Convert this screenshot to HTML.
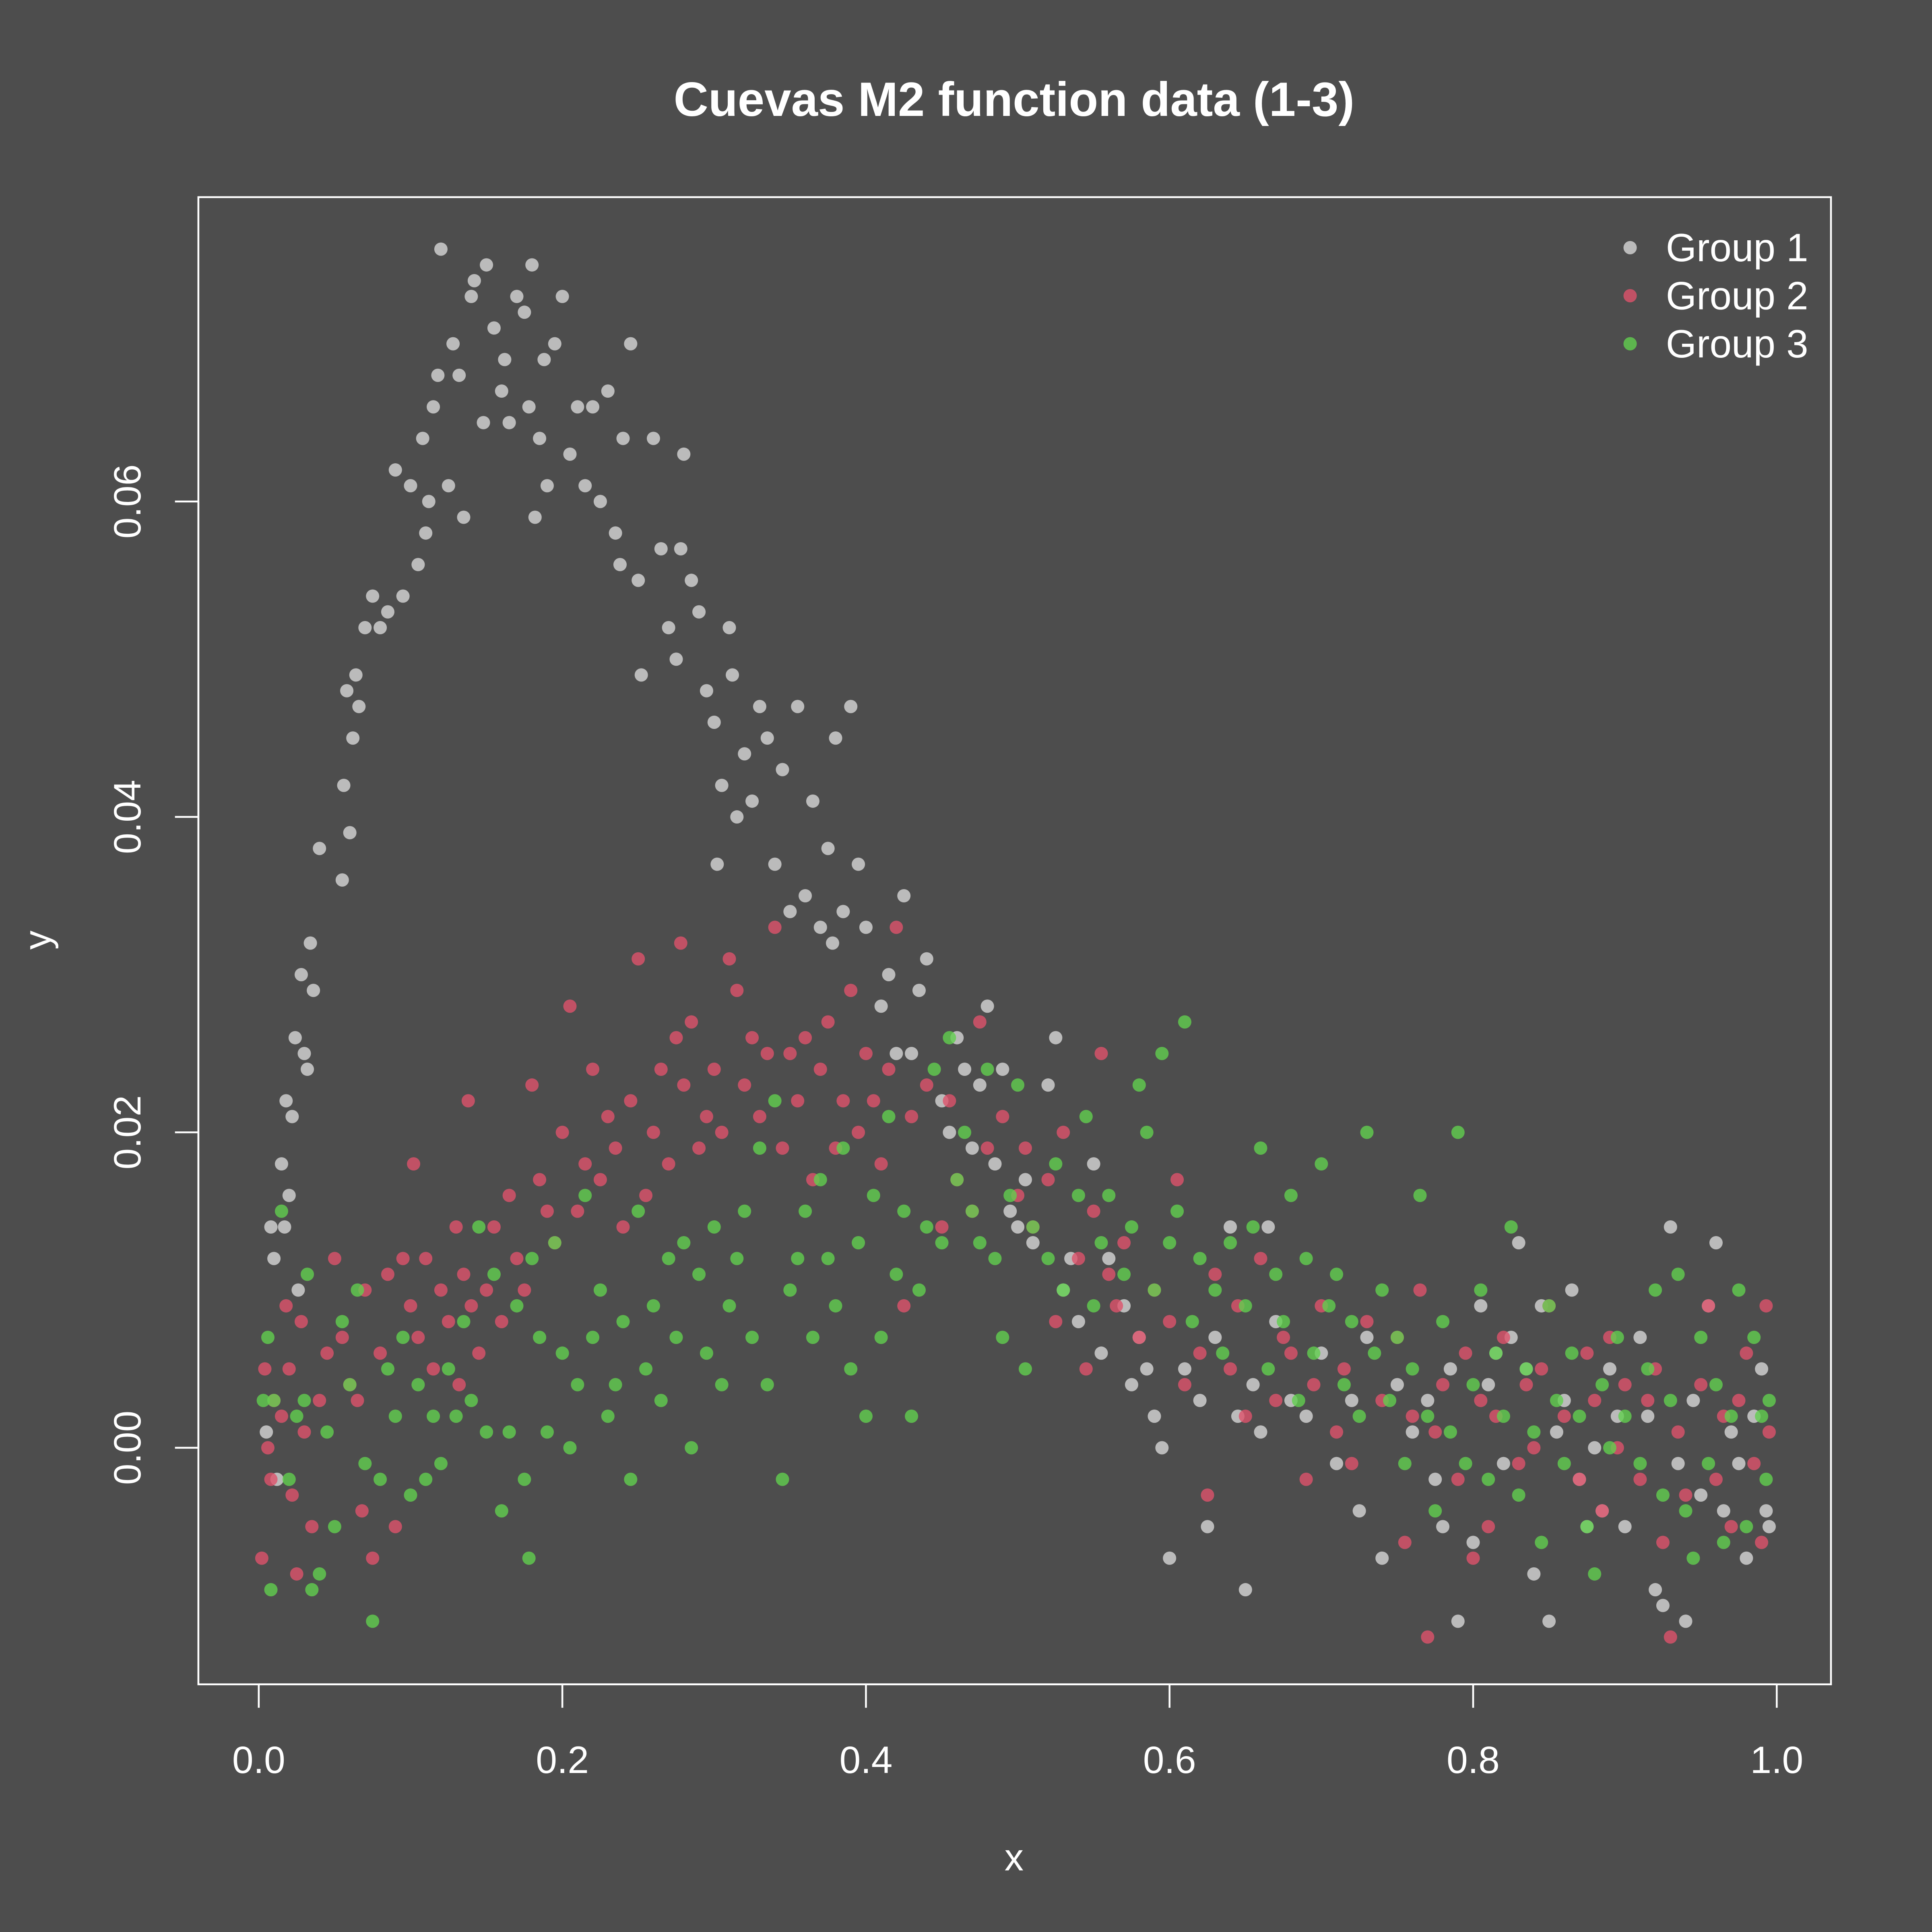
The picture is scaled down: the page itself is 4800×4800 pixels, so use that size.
<!DOCTYPE html>
<html><head><meta charset="utf-8"><style>
html,body{margin:0;padding:0;background:#4d4d4d;}
svg{display:block;}
text{font-family:"Liberation Sans",sans-serif;fill:#fff;}
</style></head><body>
<svg id="chart" width="4800" height="4800" viewBox="0 0 1568 1568" xmlns="http://www.w3.org/2000/svg">
<rect x="0" y="0" width="1568" height="1568" fill="#4d4d4d"/>
<text x="823" y="94" font-size="39" font-weight="bold" text-anchor="middle">Cuevas M2 function data (1-3)</text>
<rect x="161" y="160" width="1325" height="1207" fill="none" stroke="#fff" stroke-width="1.5"/>
<g id="xaxis"></g>
<g id="yaxis"></g>
<text x="823" y="1518" font-size="31" text-anchor="middle">x</text>
<text transform="translate(41,763) rotate(-90)" font-size="31" text-anchor="middle">y</text>
<g id="points"></g>
<g id="legend"></g>
</svg>
<script>
const xTicks=[0,0.2,0.4,0.6,0.8,1.0];
const xTickLabels=["0.0","0.2","0.4","0.6","0.8","1.0"];
const yTicks=[0,0.02,0.04,0.06];
const yTickLabels=["0.00","0.02","0.04","0.06"];
const groupNames=["Group 1","Group 2","Group 3"];
const groupColors=["rgba(215,215,215,0.8)","rgba(223,83,107,0.8)","rgba(97,208,79,0.8)"];
// y values in thousandths
const g1=[[0.005,1],[0.008,14],[0.01,12],[0.012,-2],[0.015,18],[0.017,14],[0.018,22],[0.02,16],[0.022,21],[0.024,26],[0.026,10],[0.028,30],[0.03,25],[0.032,24],[0.034,32],[0.036,29],[0.04,38],[0.055,36],[0.056,42],[0.058,48],[0.06,39],[0.062,45],[0.064,49],[0.066,47],[0.07,52],[0.075,54],[0.08,52],[0.085,53],[0.09,62],[0.095,54],[0.1,61],[0.105,56],[0.108,64],[0.11,58],[0.112,60],[0.115,66],[0.118,68],[0.12,76],[0.125,61],[0.128,70],[0.132,68],[0.135,59],[0.14,73],[0.142,74],[0.148,65],[0.15,75],[0.155,71],[0.16,67],[0.162,69],[0.165,65],[0.17,73],[0.175,72],[0.178,66],[0.18,75],[0.182,59],[0.185,64],[0.188,69],[0.19,61],[0.195,70],[0.2,73],[0.205,63],[0.21,66],[0.215,61],[0.22,66],[0.225,60],[0.23,67],[0.235,58],[0.238,56],[0.24,64],[0.245,70],[0.25,55],[0.252,49],[0.26,64],[0.265,57],[0.27,52],[0.275,50],[0.278,57],[0.28,63],[0.285,55],[0.29,53],[0.295,48],[0.3,46],[0.302,37],[0.305,42],[0.31,52],[0.312,49],[0.315,40],[0.32,44],[0.325,41],[0.33,47],[0.335,45],[0.34,37],[0.345,43],[0.35,34],[0.355,47],[0.36,35],[0.365,41],[0.37,33],[0.375,38],[0.378,32],[0.38,45],[0.385,34],[0.39,47],[0.395,37],[0.4,33],[0.41,28],[0.415,30],[0.42,25],[0.425,35],[0.43,25],[0.435,29],[0.44,31],[0.45,22],[0.455,20],[0.46,26],[0.465,24],[0.47,19],[0.475,23],[0.48,28],[0.485,18],[0.49,24],[0.495,15],[0.5,14],[0.505,17],[0.51,13],[0.52,23],[0.525,26],[0.53,10],[0.535,12],[0.54,8],[0.55,18],[0.555,6],[0.56,12],[0.57,9],[0.575,4],[0.58,7],[0.585,5],[0.59,2],[0.595,0],[0.6,-7],[0.61,5],[0.62,3],[0.625,-5],[0.63,7],[0.64,14],[0.645,2],[0.65,-9],[0.655,4],[0.66,1],[0.665,14],[0.67,8],[0.68,3],[0.69,2],[0.7,6],[0.71,-1],[0.72,3],[0.725,-4],[0.73,7],[0.74,-7],[0.75,4],[0.76,1],[0.77,3],[0.775,-2],[0.78,-5],[0.785,5],[0.79,-11],[0.8,-6],[0.805,9],[0.81,4],[0.815,6],[0.82,-1],[0.825,7],[0.83,13],[0.835,5],[0.84,-8],[0.845,9],[0.85,-11],[0.855,1],[0.86,3],[0.865,10],[0.87,-2],[0.875,-5],[0.88,0],[0.885,-4],[0.89,5],[0.895,2],[0.9,-5],[0.91,7],[0.915,2],[0.92,-9],[0.925,-10],[0.93,14],[0.935,-1],[0.94,-11],[0.945,3],[0.95,-3],[0.955,9],[0.96,13],[0.965,-4],[0.97,1],[0.975,-1],[0.98,-7],[0.985,2],[0.99,5],[0.993,-4],[0.995,-5]];
const g2=[[0.002,-7],[0.004,5],[0.006,0],[0.008,-2],[0.01,3],[0.015,2],[0.018,9],[0.02,5],[0.022,-3],[0.025,-8],[0.028,8],[0.03,1],[0.035,-5],[0.04,3],[0.045,6],[0.05,12],[0.055,7],[0.06,4],[0.065,3],[0.068,-4],[0.07,10],[0.075,-7],[0.08,6],[0.085,11],[0.09,-5],[0.095,12],[0.1,9],[0.102,18],[0.105,7],[0.11,12],[0.115,5],[0.12,10],[0.125,8],[0.13,14],[0.132,4],[0.135,11],[0.138,22],[0.14,9],[0.145,6],[0.15,10],[0.155,14],[0.16,8],[0.165,16],[0.17,12],[0.175,10],[0.18,23],[0.185,17],[0.19,15],[0.195,13],[0.2,20],[0.205,28],[0.21,15],[0.215,18],[0.22,24],[0.225,17],[0.23,21],[0.235,19],[0.24,14],[0.245,22],[0.25,31],[0.255,16],[0.26,20],[0.265,24],[0.27,18],[0.275,26],[0.278,32],[0.28,23],[0.285,27],[0.29,19],[0.295,21],[0.3,24],[0.305,20],[0.31,31],[0.315,29],[0.32,23],[0.325,26],[0.33,21],[0.335,25],[0.34,33],[0.345,19],[0.35,25],[0.355,22],[0.36,26],[0.365,17],[0.37,24],[0.375,27],[0.38,19],[0.385,22],[0.39,29],[0.395,20],[0.4,25],[0.405,22],[0.41,18],[0.415,24],[0.42,33],[0.425,9],[0.43,21],[0.44,23],[0.45,14],[0.455,22],[0.46,17],[0.47,15],[0.475,27],[0.48,19],[0.49,21],[0.5,16],[0.505,19],[0.51,14],[0.52,17],[0.525,8],[0.53,20],[0.54,12],[0.545,5],[0.55,15],[0.555,25],[0.56,11],[0.565,9],[0.57,13],[0.58,7],[0.59,10],[0.6,8],[0.605,17],[0.61,4],[0.62,6],[0.625,-3],[0.63,11],[0.64,5],[0.645,9],[0.65,2],[0.66,12],[0.67,3],[0.675,7],[0.68,6],[0.69,-2],[0.695,4],[0.7,9],[0.71,1],[0.715,5],[0.72,-1],[0.73,8],[0.74,3],[0.75,7],[0.755,-6],[0.76,2],[0.765,10],[0.77,-12],[0.775,1],[0.78,4],[0.79,-2],[0.795,6],[0.8,-7],[0.805,3],[0.81,-5],[0.815,2],[0.82,7],[0.83,-1],[0.835,4],[0.84,0],[0.845,5],[0.85,9],[0.86,2],[0.87,-2],[0.875,6],[0.88,3],[0.885,-4],[0.89,7],[0.895,0],[0.9,4],[0.91,-2],[0.915,3],[0.92,5],[0.925,-6],[0.93,-12],[0.935,1],[0.94,-3],[0.95,4],[0.955,9],[0.96,-2],[0.965,2],[0.97,-5],[0.975,3],[0.98,6],[0.985,-1],[0.99,-6],[0.993,9],[0.995,1]];
const g3=[[0.003,3],[0.006,7],[0.008,-9],[0.01,3],[0.015,15],[0.02,-2],[0.025,2],[0.03,3],[0.032,11],[0.035,-9],[0.04,-8],[0.045,1],[0.05,-5],[0.055,8],[0.06,4],[0.065,10],[0.07,-1],[0.075,-11],[0.08,-2],[0.085,5],[0.09,2],[0.095,7],[0.1,-3],[0.105,4],[0.11,-2],[0.115,2],[0.12,-1],[0.125,5],[0.13,2],[0.135,8],[0.14,3],[0.145,14],[0.15,1],[0.155,11],[0.16,-4],[0.165,1],[0.17,9],[0.175,-2],[0.178,-7],[0.18,12],[0.185,7],[0.19,1],[0.195,13],[0.2,6],[0.205,0],[0.21,4],[0.215,16],[0.22,7],[0.225,10],[0.23,2],[0.235,4],[0.24,8],[0.245,-2],[0.25,15],[0.255,5],[0.26,9],[0.265,3],[0.27,12],[0.275,7],[0.28,13],[0.285,0],[0.29,11],[0.295,6],[0.3,14],[0.305,4],[0.31,9],[0.315,12],[0.32,15],[0.325,7],[0.33,19],[0.335,4],[0.34,22],[0.345,-2],[0.35,10],[0.355,12],[0.36,15],[0.365,7],[0.37,17],[0.375,12],[0.38,9],[0.385,19],[0.39,5],[0.395,13],[0.4,2],[0.405,16],[0.41,7],[0.415,21],[0.42,11],[0.425,15],[0.43,2],[0.435,10],[0.44,14],[0.445,24],[0.45,13],[0.455,26],[0.46,17],[0.465,20],[0.47,15],[0.475,13],[0.48,24],[0.485,12],[0.49,7],[0.495,16],[0.5,23],[0.505,5],[0.51,14],[0.52,12],[0.525,18],[0.53,10],[0.54,16],[0.545,21],[0.55,9],[0.555,13],[0.56,16],[0.57,11],[0.575,14],[0.58,23],[0.585,20],[0.59,10],[0.595,25],[0.6,13],[0.605,15],[0.61,27],[0.615,8],[0.62,12],[0.63,10],[0.635,6],[0.64,13],[0.65,9],[0.655,14],[0.66,19],[0.665,5],[0.67,11],[0.675,8],[0.68,16],[0.685,3],[0.69,12],[0.695,6],[0.7,18],[0.705,9],[0.71,11],[0.715,4],[0.72,8],[0.725,2],[0.73,20],[0.735,6],[0.74,10],[0.745,3],[0.75,7],[0.755,-1],[0.76,5],[0.765,16],[0.77,2],[0.775,-4],[0.78,8],[0.785,1],[0.79,20],[0.795,-1],[0.8,4],[0.805,10],[0.81,-2],[0.815,6],[0.82,2],[0.825,14],[0.83,-3],[0.835,5],[0.84,1],[0.845,-6],[0.85,9],[0.855,3],[0.86,-1],[0.865,6],[0.87,2],[0.875,-5],[0.88,-8],[0.885,4],[0.89,0],[0.895,7],[0.9,2],[0.91,-1],[0.915,5],[0.92,10],[0.925,-3],[0.93,3],[0.935,11],[0.94,-4],[0.945,-7],[0.95,7],[0.955,-1],[0.96,4],[0.965,-6],[0.97,2],[0.975,10],[0.98,-5],[0.985,7],[0.99,2],[0.993,-2],[0.995,3]];
const groups=[g1,g2,g3];

const NS="http://www.w3.org/2000/svg";
function sx(v){return 210+v*1232;}
function sy(v){return 1175-v*12800;}
function mk(tag,attrs,parent){const e=document.createElementNS(NS,tag);for(const k in attrs)e.setAttribute(k,attrs[k]);parent.appendChild(e);return e;}

const xa=document.getElementById('xaxis');
mk('line',{x1:sx(0),x2:sx(1),y1:1367,y2:1367,stroke:'#fff','stroke-width':1.5},xa);
xTicks.forEach((t,i)=>{
  const l=mk('line',{x1:sx(t),x2:sx(t),y1:1367,y2:1386,stroke:'#fff','stroke-width':1.5},xa);
  
  
  const tx=mk('text',{x:sx(t),y:1439,'font-size':31,'text-anchor':'middle'},xa);
  tx.textContent=xTickLabels[i];
  
  
});
const ya=document.getElementById('yaxis');
mk('line',{x1:161,x2:161,y1:sy(0),y2:sy(0.06),stroke:'#fff','stroke-width':1.5},ya);
yTicks.forEach((t,i)=>{
  const l=mk('line',{x1:142,x2:161,y1:sy(t),y2:sy(t),stroke:'#fff','stroke-width':1.5},ya);
  
  
  const tx=mk('text',{transform:`translate(114,${sy(t)}) rotate(-90)`,'font-size':31,'text-anchor':'middle'},ya);
  tx.textContent=yTickLabels[i];
  
  
});
const pl=document.getElementById('points');
groups.forEach((g,gi)=>{
  g.forEach(p=>{
    const c=mk('circle',{cx:sx(p[0]),cy:sy(p[1]/1000),r:5.4,fill:groupColors[gi]},pl);
    
    
  });
});
const lg=document.getElementById('legend');
groupNames.forEach((n,i)=>{
  const y=201+i*39;
  const c=mk('circle',{cx:1323,cy:y,r:5.4,fill:groupColors[i]},lg);
  
  
  const t=mk('text',{x:1352,y:y+11,'font-size':32},lg);
  t.textContent=n;
  
  
});
</script>
</body></html>
